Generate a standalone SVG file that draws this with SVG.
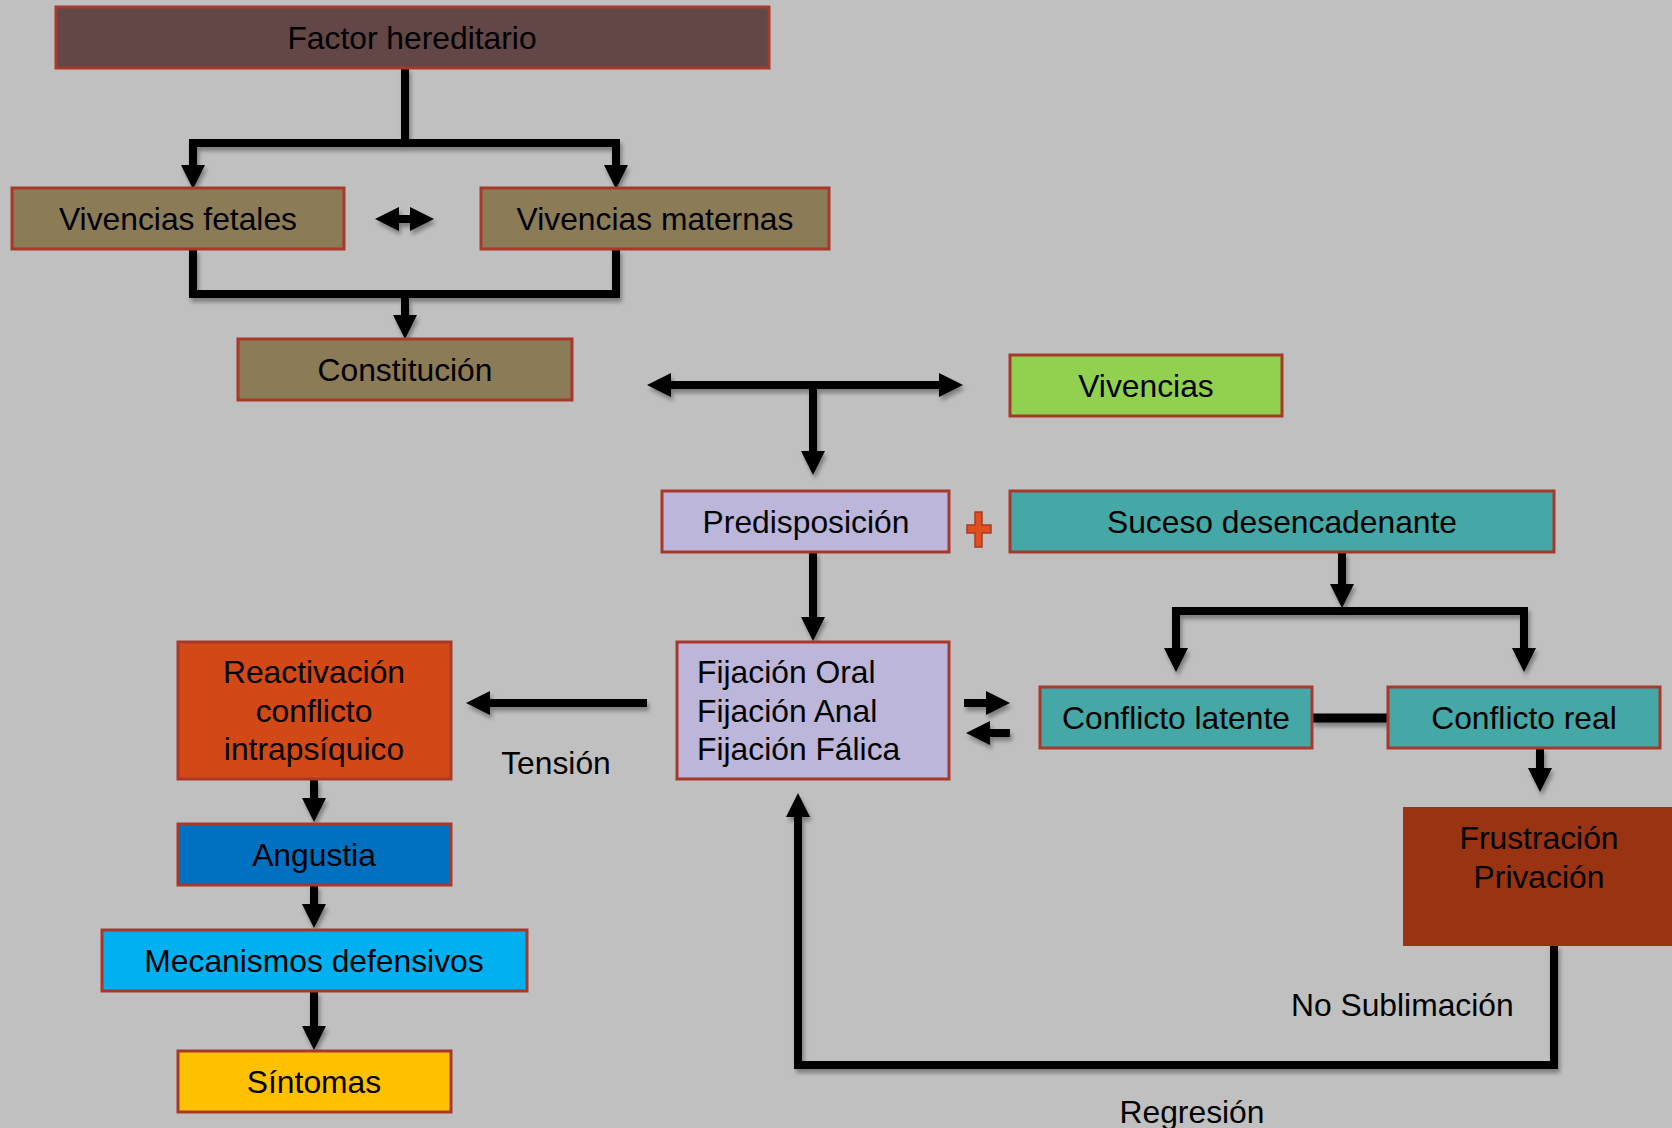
<svg xmlns="http://www.w3.org/2000/svg" width="1672" height="1128" viewBox="0 0 1672 1128">
<defs>
<style>
.box{stroke:#A8382A;stroke-width:3}
.t{font-family:"Liberation Sans",Arial,sans-serif;font-size:31.8px;fill:#000}
.c{text-anchor:middle}
.ln{fill:none;stroke:#000;stroke-width:8;stroke-linejoin:miter;stroke-linecap:butt}
</style>
<marker id="ah" markerUnits="userSpaceOnUse" markerWidth="24" markerHeight="24" viewBox="0 0 24 24" refX="0" refY="12" orient="auto-start-reverse">
<path d="M0,0 L24,12 L0,24 Z" fill="#000"/>
</marker>
<filter id="sh" x="-10%" y="-10%" width="120%" height="130%">
<feDropShadow dx="2" dy="4" stdDeviation="2" flood-color="#000" flood-opacity="0.35"/>
</filter>
</defs>
<rect width="1672" height="1128" fill="#C0C0C0"/>

<g id="connectors" filter="url(#sh)">
<path class="ln" d="M405,68 V143"/>
<path class="ln" d="M193,165 V143 H616 V165" marker-start="url(#ah)" marker-end="url(#ah)"/>
<path class="ln" d="M193,249 V294 H616 V249"/>
<path class="ln" d="M405,294 V315" marker-end="url(#ah)"/>
<path class="ln" d="M399,219 H410" marker-start="url(#ah)" marker-end="url(#ah)"/>
<path class="ln" d="M671,385 H939" marker-start="url(#ah)" marker-end="url(#ah)"/>
<path class="ln" d="M813,385 V451" marker-end="url(#ah)"/>
<path class="ln" d="M813,552 V617" marker-end="url(#ah)"/>
<path class="ln" d="M1342,552 V584" marker-end="url(#ah)"/>
<path class="ln" d="M1176,648 V611 H1524 V648" marker-start="url(#ah)" marker-end="url(#ah)"/>
<path class="ln" d="M1312,718 H1388" style="stroke-width:9"/>
<path class="ln" d="M964,703 H986" marker-end="url(#ah)"/>
<path class="ln" d="M1010,733 H990" marker-end="url(#ah)"/>
<path class="ln" d="M1540,748 V768" marker-end="url(#ah)"/>
<path class="ln" d="M647,703 H490" marker-end="url(#ah)"/>
<path class="ln" d="M314,779 V798" marker-end="url(#ah)"/>
<path class="ln" d="M314,885 V904" marker-end="url(#ah)"/>
<path class="ln" d="M314,991 V1026" marker-end="url(#ah)"/>
<path class="ln" d="M1554,945 V1065 H798 V817" marker-end="url(#ah)"/>
</g>

<g id="factor"><rect class="box" x="56" y="7" width="713" height="61" fill="#634646"/><text class="t c" x="412" y="48.5">Factor hereditario</text></g>
<g id="fetales"><rect class="box" x="12" y="188" width="332" height="61" fill="#8C7B57"/><text class="t c" x="178" y="229.5">Vivencias fetales</text></g>
<g id="maternas"><rect class="box" x="481" y="188" width="348" height="61" fill="#8C7B57"/><text class="t c" x="655" y="229.5">Vivencias maternas</text></g>
<g id="constitucion"><rect class="box" x="238" y="339" width="334" height="61" fill="#8C7B57"/><text class="t c" x="405" y="380.5">Constitución</text></g>
<g id="vivencias"><rect class="box" x="1010" y="355" width="272" height="61" fill="#92D050"/><text class="t c" x="1146" y="396.5">Vivencias</text></g>
<g id="predisposicion"><rect class="box" x="662" y="491" width="287" height="61" fill="#BCB6DA"/><text class="t c" x="806" y="532.5">Predisposición</text></g>
<g id="plus"><path d="M975,512 h7 v13 h9 v8 h-9 v14 h-7 v-14 h-8 v-8 h8 Z" fill="#E0501C" stroke="#A8382A" stroke-width="1.5"/></g>
<g id="suceso"><rect class="box" x="1010" y="491" width="544" height="61" fill="#45A7A6"/><text class="t c" x="1282" y="532.5">Suceso desencadenante</text></g>
<g id="fijacion"><rect class="box" x="677" y="642" width="272" height="137" fill="#BCB6DA"/><text class="t" x="697" y="683">Fijación Oral</text><text class="t" x="697" y="721.5">Fijación Anal</text><text class="t" x="697" y="760">Fijación Fálica</text></g>
<g id="latente"><rect class="box" x="1040" y="687" width="272" height="61" fill="#45A7A6"/><text class="t c" x="1176" y="729">Conflicto latente</text></g>
<g id="real"><rect class="box" x="1388" y="687" width="272" height="61" fill="#45A7A6"/><text class="t c" x="1524" y="729">Conflicto real</text></g>
<g id="frustracion"><rect x="1403" y="807" width="280" height="139" fill="#993311"/><text class="t c" x="1539" y="849">Frustración</text><text class="t c" x="1539" y="888">Privación</text></g>
<g id="reactivacion"><rect class="box" x="178" y="642" width="273" height="137" fill="#D24817"/><text class="t c" x="314" y="683">Reactivación</text><text class="t c" x="314" y="721.5">conflicto</text><text class="t c" x="314" y="760">intrapsíquico</text></g>
<g id="angustia"><rect class="box" x="178" y="824" width="273" height="61" fill="#0070C0"/><text class="t c" x="314" y="866">Angustia</text></g>
<g id="mecanismos"><rect class="box" x="102" y="930" width="425" height="61" fill="#00B0F0"/><text class="t c" x="314" y="972">Mecanismos defensivos</text></g>
<g id="sintomas"><rect class="box" x="178" y="1051" width="273" height="61" fill="#FFC000"/><text class="t c" x="314" y="1092.5">Síntomas</text></g>

<text class="t c" x="556" y="774">Tensión</text>
<text class="t" x="1291" y="1016">No Sublimación</text>
<text class="t c" x="1192" y="1123">Regresión</text>
</svg>
